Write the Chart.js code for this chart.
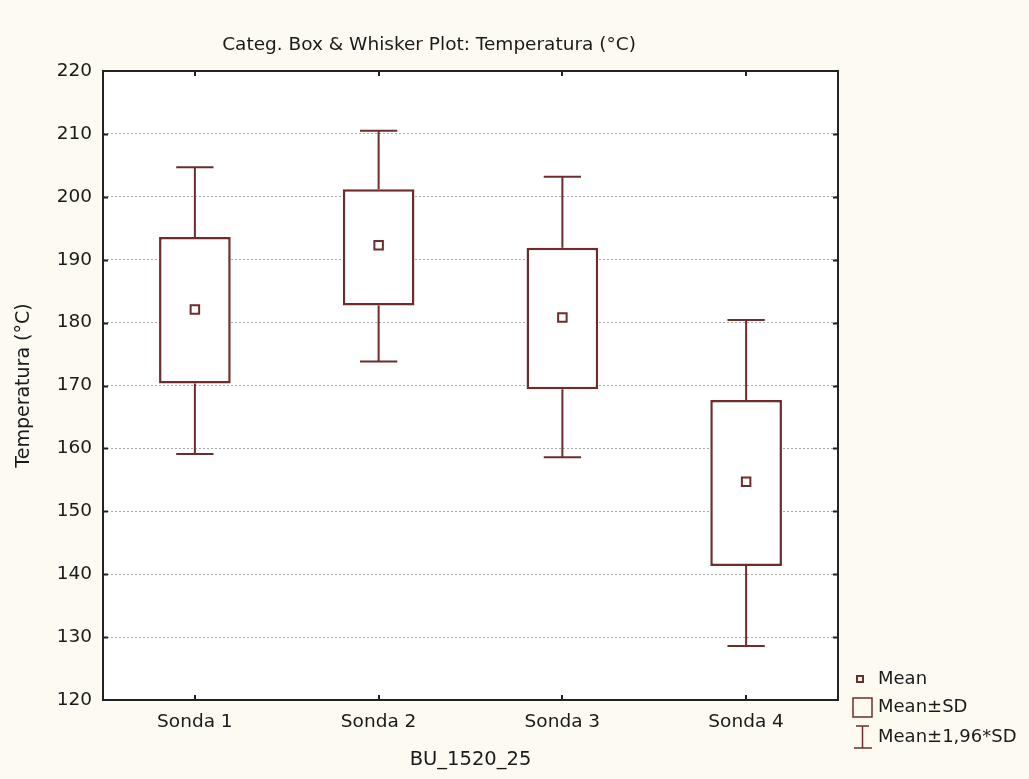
<!DOCTYPE html>
<html>
<head>
<meta charset="utf-8">
<title>Categ. Box & Whisker Plot</title>
<script src="https://cdn.jsdelivr.net/npm/chart.js@4/dist/chart.umd.min.js"></script>
<style>
  body { margin: 0; background: #fdfbf1; }
  canvas { display: block; }
</style>
</head>
<body>
<canvas id="mychart" width="1029" height="779"></canvas>
<script>
'use strict'

// data

let categories = ['Sonda 1', 'Sonda 2', 'Sonda 3', 'Sonda 4'];
let means = [182.1, 192.3, 180.8, 154.7];
let sdLow = [170.3, 182.7, 169.4, 141.3];
let sdHigh = [193.6, 201.2, 191.9, 167.7];
let ciLow = [159.1, 173.8, 158.6, 128.6];
let ciHigh = [204.7, 210.5, 203.2, 180.4];

let yMin = 120;
let yMax = 220;
let yStep = 10;

let chartTitle = 'Categ. Box & Whisker Plot: Temperatura (°C)';
let xTitle = 'BU_1520_25';
let yTitle = 'Temperatura (°C)';
let legendLabels = ['Mean', 'Mean±SD', 'Mean±1,96*SD'];

// styles

let boxColor = '#6e2c2c';
let axisColor = '#222222';
let textColor = '#1a1a1a';
let fontName = '"DejaVu Sans", sans-serif';

let ctxWindow = document.getElementById('mychart');

// floating bars for the SD boxes
let boxData = [];
for (let i = 0; i < categories.length; i++) {
  boxData.push([sdLow[i], sdHigh[i]]);
}

// white plot area
let plotBackground = {
  id: 'plotBackground',
  beforeDraw(chart) {
    let ctx = chart.ctx;
    let a = chart.chartArea;
    ctx.save();
    ctx.fillStyle = '#ffffff';
    ctx.fillRect(a.left, a.top, a.right - a.left, a.bottom - a.top);
    ctx.restore();
  }
};

// whiskers (mean +- 1.96 SD)
let whiskers = {
  id: 'whiskers',
  beforeDatasetsDraw(chart) {
    let ctx = chart.ctx;
    let y = chart.scales.y;
    let meta = chart.getDatasetMeta(1);
    ctx.save();
    ctx.strokeStyle = boxColor;
    ctx.lineWidth = 2;
    for (let i = 0; i < categories.length; i++) {
      let bar = meta.data[i];
      let cx = bar.x;
      let half = bar.width * 0.26;
      let top = y.getPixelForValue(ciHigh[i]);
      let bottom = y.getPixelForValue(ciLow[i]);
      ctx.beginPath();
      ctx.moveTo(cx, y.getPixelForValue(sdHigh[i]));
      ctx.lineTo(cx, top);
      ctx.moveTo(cx - half, top);
      ctx.lineTo(cx + half, top);
      ctx.moveTo(cx, y.getPixelForValue(sdLow[i]));
      ctx.lineTo(cx, bottom);
      ctx.moveTo(cx - half, bottom);
      ctx.lineTo(cx + half, bottom);
      ctx.stroke();
    }
    ctx.restore();
  }
};

// frame with inward ticks, title and legend
let frameAndText = {
  id: 'frameAndText',
  afterDraw(chart) {
    let ctx = chart.ctx;
    let a = chart.chartArea;
    let x = chart.scales.x;
    let y = chart.scales.y;
    ctx.save();
    ctx.strokeStyle = axisColor;
    ctx.lineWidth = 2;
    ctx.strokeRect(a.left, a.top, a.right - a.left, a.bottom - a.top);

    ctx.beginPath();
    for (let v = yMin + yStep; v < yMax; v += yStep) {
      let py = Math.round(y.getPixelForValue(v)) + 0.5;
      ctx.moveTo(a.left, py);
      ctx.lineTo(a.left + 5, py);
      ctx.moveTo(a.right, py);
      ctx.lineTo(a.right - 5, py);
    }
    for (let i = 0; i < categories.length; i++) {
      let px = Math.round(x.getPixelForValue(i));
      ctx.moveTo(px, a.bottom);
      ctx.lineTo(px, a.bottom - 5);
      ctx.moveTo(px, a.top);
      ctx.lineTo(px, a.top + 5);
    }
    ctx.stroke();

    // title
    ctx.fillStyle = textColor;
    ctx.font = '18.5px ' + fontName;
    ctx.textAlign = 'center';
    ctx.textBaseline = 'middle';
    ctx.fillText(chartTitle, 429, 45);

    // legend
    let lx = 852;
    let ly = [679, 707, 737];
    ctx.textAlign = 'left';
    ctx.font = '18px ' + fontName;
    ctx.strokeStyle = boxColor;
    ctx.lineWidth = 2;
    ctx.strokeRect(lx + 5, ly[0] - 3, 6, 6);
    ctx.lineWidth = 1.5;
    ctx.strokeRect(lx + 1, ly[1] - 9, 19, 19);
    ctx.beginPath();
    ctx.moveTo(lx + 10.5, ly[2] - 11);
    ctx.lineTo(lx + 10.5, ly[2] + 11);
    ctx.moveTo(lx + 4, ly[2] - 11);
    ctx.lineTo(lx + 17, ly[2] - 11);
    ctx.moveTo(lx + 2, ly[2] + 11);
    ctx.lineTo(lx + 20, ly[2] + 11);
    ctx.stroke();
    ctx.fillText(legendLabels[0], lx + 26, ly[0]);
    ctx.fillText(legendLabels[1], lx + 26, ly[1]);
    ctx.fillText(legendLabels[2], lx + 26, ly[2]);
    ctx.restore();
  }
};

let myObj = {
  type: 'bar',
  data: {
    labels: categories,
    datasets: [{
      type: 'line',
      label: 'Mean',
      data: means,
      showLine: false,
      pointStyle: 'rect',
      pointRadius: 6,
      pointBorderWidth: 2,
      pointBackgroundColor: '#ffffff',
      pointBorderColor: boxColor,
      order: 0
    },
    {
      label: 'Mean±SD',
      data: boxData,
      backgroundColor: '#ffffff',
      borderColor: boxColor,
      borderWidth: 2.5,
      borderSkipped: false,
      categoryPercentage: 1,
      barPercentage: 0.39,
      order: 1
    }]
  },
  options: {
    responsive: false,
    animation: false,
    layout: {
      padding: { left: 0, top: 71, right: 191, bottom: 0 }
    },
    plugins: {
      legend: { display: false },
      tooltip: { enabled: false }
    },
    scales: {
      x: {
        grid: { display: false, drawTicks: false },
        border: { display: false },
        ticks: {
          color: textColor,
          padding: 11,
          font: { family: fontName, size: 18.5 }
        },
        title: {
          display: true,
          text: xTitle,
          color: textColor,
          padding: { top: 0, bottom: 7 },
          font: { family: fontName, size: 19.5 }
        },
        afterFit(scale) {
          scale.height = 79;
        }
      },
      y: {
        min: yMin,
        max: yMax,
        ticks: {
          stepSize: yStep,
          color: textColor,
          padding: 11,
          font: { family: fontName, size: 18.5 }
        },
        grid: {
          drawTicks: false,
          color: '#a8a8a8',
          lineWidth: 1
        },
        border: { display: false, dash: [2, 2] },
        title: {
          display: true,
          text: yTitle,
          color: textColor,
          padding: { top: 13, bottom: 0 },
          font: { family: fontName, size: 19 }
        },
        afterFit(scale) {
          scale.width = 103;
        }
      }
    }
  },
  plugins: [plotBackground, whiskers, frameAndText]
};

const myChart = new Chart(ctxWindow, myObj);
</script>
</body>
</html>
